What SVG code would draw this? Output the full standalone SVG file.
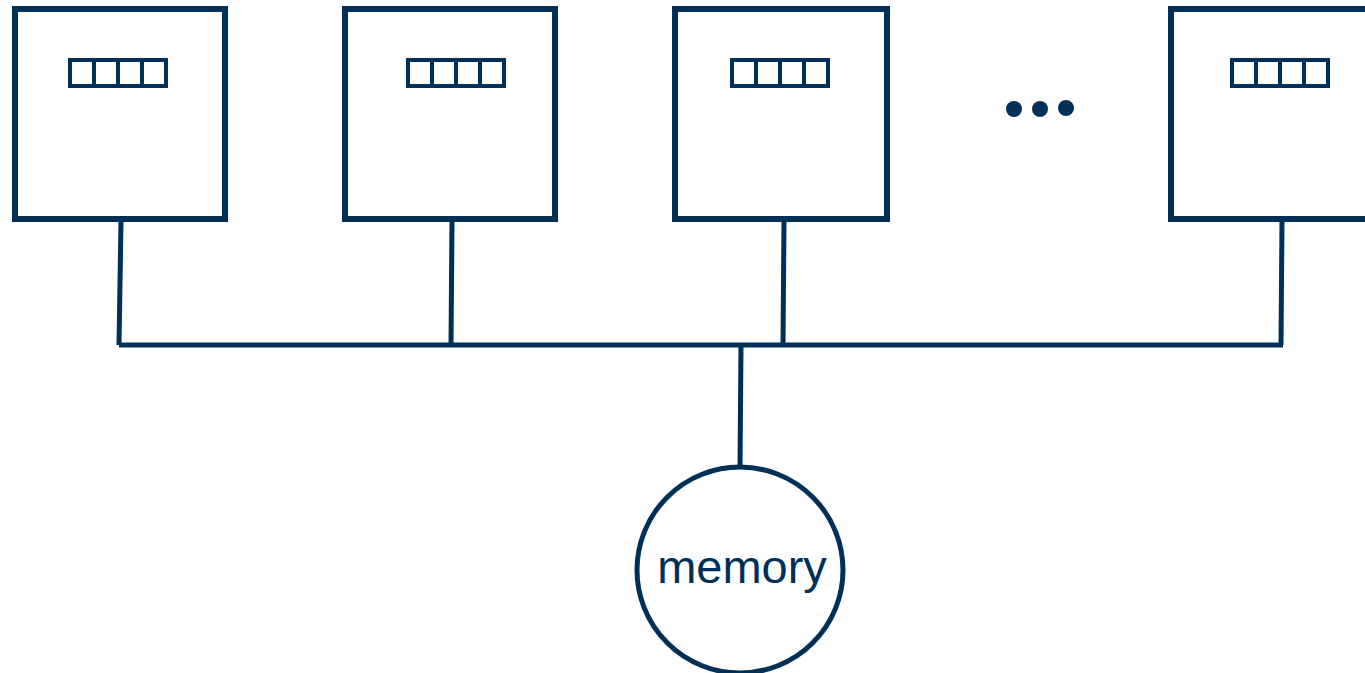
<svg xmlns="http://www.w3.org/2000/svg" width="1365" height="673" viewBox="0 0 1365 673">
<style>
.box{fill:#fff;stroke:#003057;stroke-width:6}
.reg{fill:#fff;stroke:#003057;stroke-width:4}
.cell{stroke:#003057;stroke-width:4}
.wire{stroke:#003057;stroke-width:5;fill:none}
.dot{fill:#003057}
.lbl{font-family:"Liberation Sans",Arial,sans-serif;font-size:47px;fill:#003057;text-anchor:middle}
</style>
<rect width="1365" height="673" fill="#fff"/>
<g id="connectors">
<line class="wire" x1="119" y1="345" x2="1283" y2="345"/>
<line class="wire" x1="121" y1="221" x2="119" y2="345"/>
<line class="wire" x1="452" y1="221" x2="451" y2="345"/>
<line class="wire" x1="784" y1="221" x2="783" y2="345"/>
<line class="wire" x1="1282" y1="221" x2="1281" y2="345"/>
<line class="wire" x1="741" y1="345" x2="740" y2="468"/>
</g>
<g id="proc1">
<rect class="box" x="15" y="9" width="210" height="210"/>
<rect class="reg" x="70" y="60" width="96" height="26"/>
<line class="cell" x1="94" y1="60" x2="94" y2="86"/><line class="cell" x1="118" y1="60" x2="118" y2="86"/><line class="cell" x1="142" y1="60" x2="142" y2="86"/>
</g>
<g id="proc2">
<rect class="box" x="345" y="9" width="210" height="210"/>
<rect class="reg" x="408" y="60" width="96" height="26"/>
<line class="cell" x1="432" y1="60" x2="432" y2="86"/><line class="cell" x1="456" y1="60" x2="456" y2="86"/><line class="cell" x1="480" y1="60" x2="480" y2="86"/>
</g>
<g id="proc3">
<rect class="box" x="675" y="9" width="212" height="210"/>
<rect class="reg" x="732" y="60" width="96" height="26"/>
<line class="cell" x1="756" y1="60" x2="756" y2="86"/><line class="cell" x1="780" y1="60" x2="780" y2="86"/><line class="cell" x1="804" y1="60" x2="804" y2="86"/>
</g>
<g id="ellipsis">
<circle class="dot" cx="1014" cy="109" r="8"/>
<circle class="dot" cx="1040" cy="109" r="8"/>
<circle class="dot" cx="1066" cy="108" r="8"/>
</g>
<g id="proc4">
<rect class="box" x="1171" y="9" width="210" height="210"/>
<rect class="reg" x="1232" y="60" width="96" height="26"/>
<line class="cell" x1="1256" y1="60" x2="1256" y2="86"/><line class="cell" x1="1280" y1="60" x2="1280" y2="86"/><line class="cell" x1="1304" y1="60" x2="1304" y2="86"/>
</g>
<g id="memory">
<circle cx="740" cy="570" r="103" fill="#fff" stroke="#003057" stroke-width="5"/>
<text class="lbl" x="742" y="583">memory</text>
</g>
</svg>
